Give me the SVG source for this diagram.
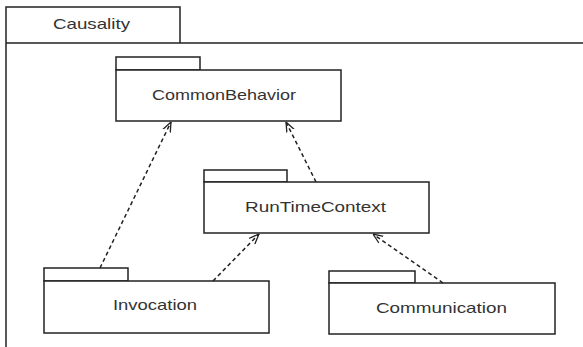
<svg xmlns="http://www.w3.org/2000/svg" width="583" height="347" viewBox="0 0 583 347">
<style>
.box{fill:#fff;stroke:#222;stroke-width:1.5}
.lbl{font-family:"Liberation Sans",Arial,sans-serif;font-size:15px;fill:#333}
.dep{fill:none;stroke:#222;stroke-width:1.5;stroke-dasharray:4,3}
</style>
<defs>
<marker id="open" viewBox="0 0 10 10" refX="10" refY="5" markerWidth="10" markerHeight="10" markerUnits="userSpaceOnUse" orient="auto">
<path d="M0,1 L10,5 L0,9" fill="none" stroke="#222" stroke-width="1.3"/>
</marker>
</defs>
<rect width="583" height="347" fill="#fff"/>
<g id="Causality">
<path class="box" d="M6,347 V7 H180 V43 M6,43 H590"/>
<text class="lbl" x="53" y="29" textLength="77" lengthAdjust="spacingAndGlyphs">Causality</text>
</g>
<g id="CommonBehavior">
<rect class="box" x="116" y="57" width="84" height="13"/>
<rect class="box" x="116" y="70" width="225" height="51"/>
<text class="lbl" x="152" y="100" textLength="144" lengthAdjust="spacingAndGlyphs">CommonBehavior</text>
</g>
<g id="RunTimeContext">
<rect class="box" x="204" y="170" width="83" height="12"/>
<rect class="box" x="204" y="182" width="225" height="51"/>
<text class="lbl" x="245" y="212" textLength="141" lengthAdjust="spacingAndGlyphs">RunTimeContext</text>
</g>
<g id="Invocation">
<rect class="box" x="44" y="268" width="84" height="13"/>
<rect class="box" x="44" y="281" width="225" height="52"/>
<text class="lbl" x="113" y="310" textLength="84" lengthAdjust="spacingAndGlyphs">Invocation</text>
</g>
<g id="Communication">
<rect class="box" x="329" y="271" width="86" height="12"/>
<rect class="box" x="329" y="283" width="226" height="51"/>
<text class="lbl" x="376" y="313" textLength="131" lengthAdjust="spacingAndGlyphs">Communication</text>
</g>
<g id="connectors">
<line class="dep" x1="100" y1="268" x2="171" y2="122" marker-end="url(#open)"/>
<line class="dep" x1="213" y1="281" x2="259" y2="234" marker-end="url(#open)"/>
<line class="dep" x1="316" y1="182" x2="286" y2="122" marker-end="url(#open)"/>
<line class="dep" x1="443" y1="283" x2="373" y2="234" marker-end="url(#open)"/>
</g>
</svg>
